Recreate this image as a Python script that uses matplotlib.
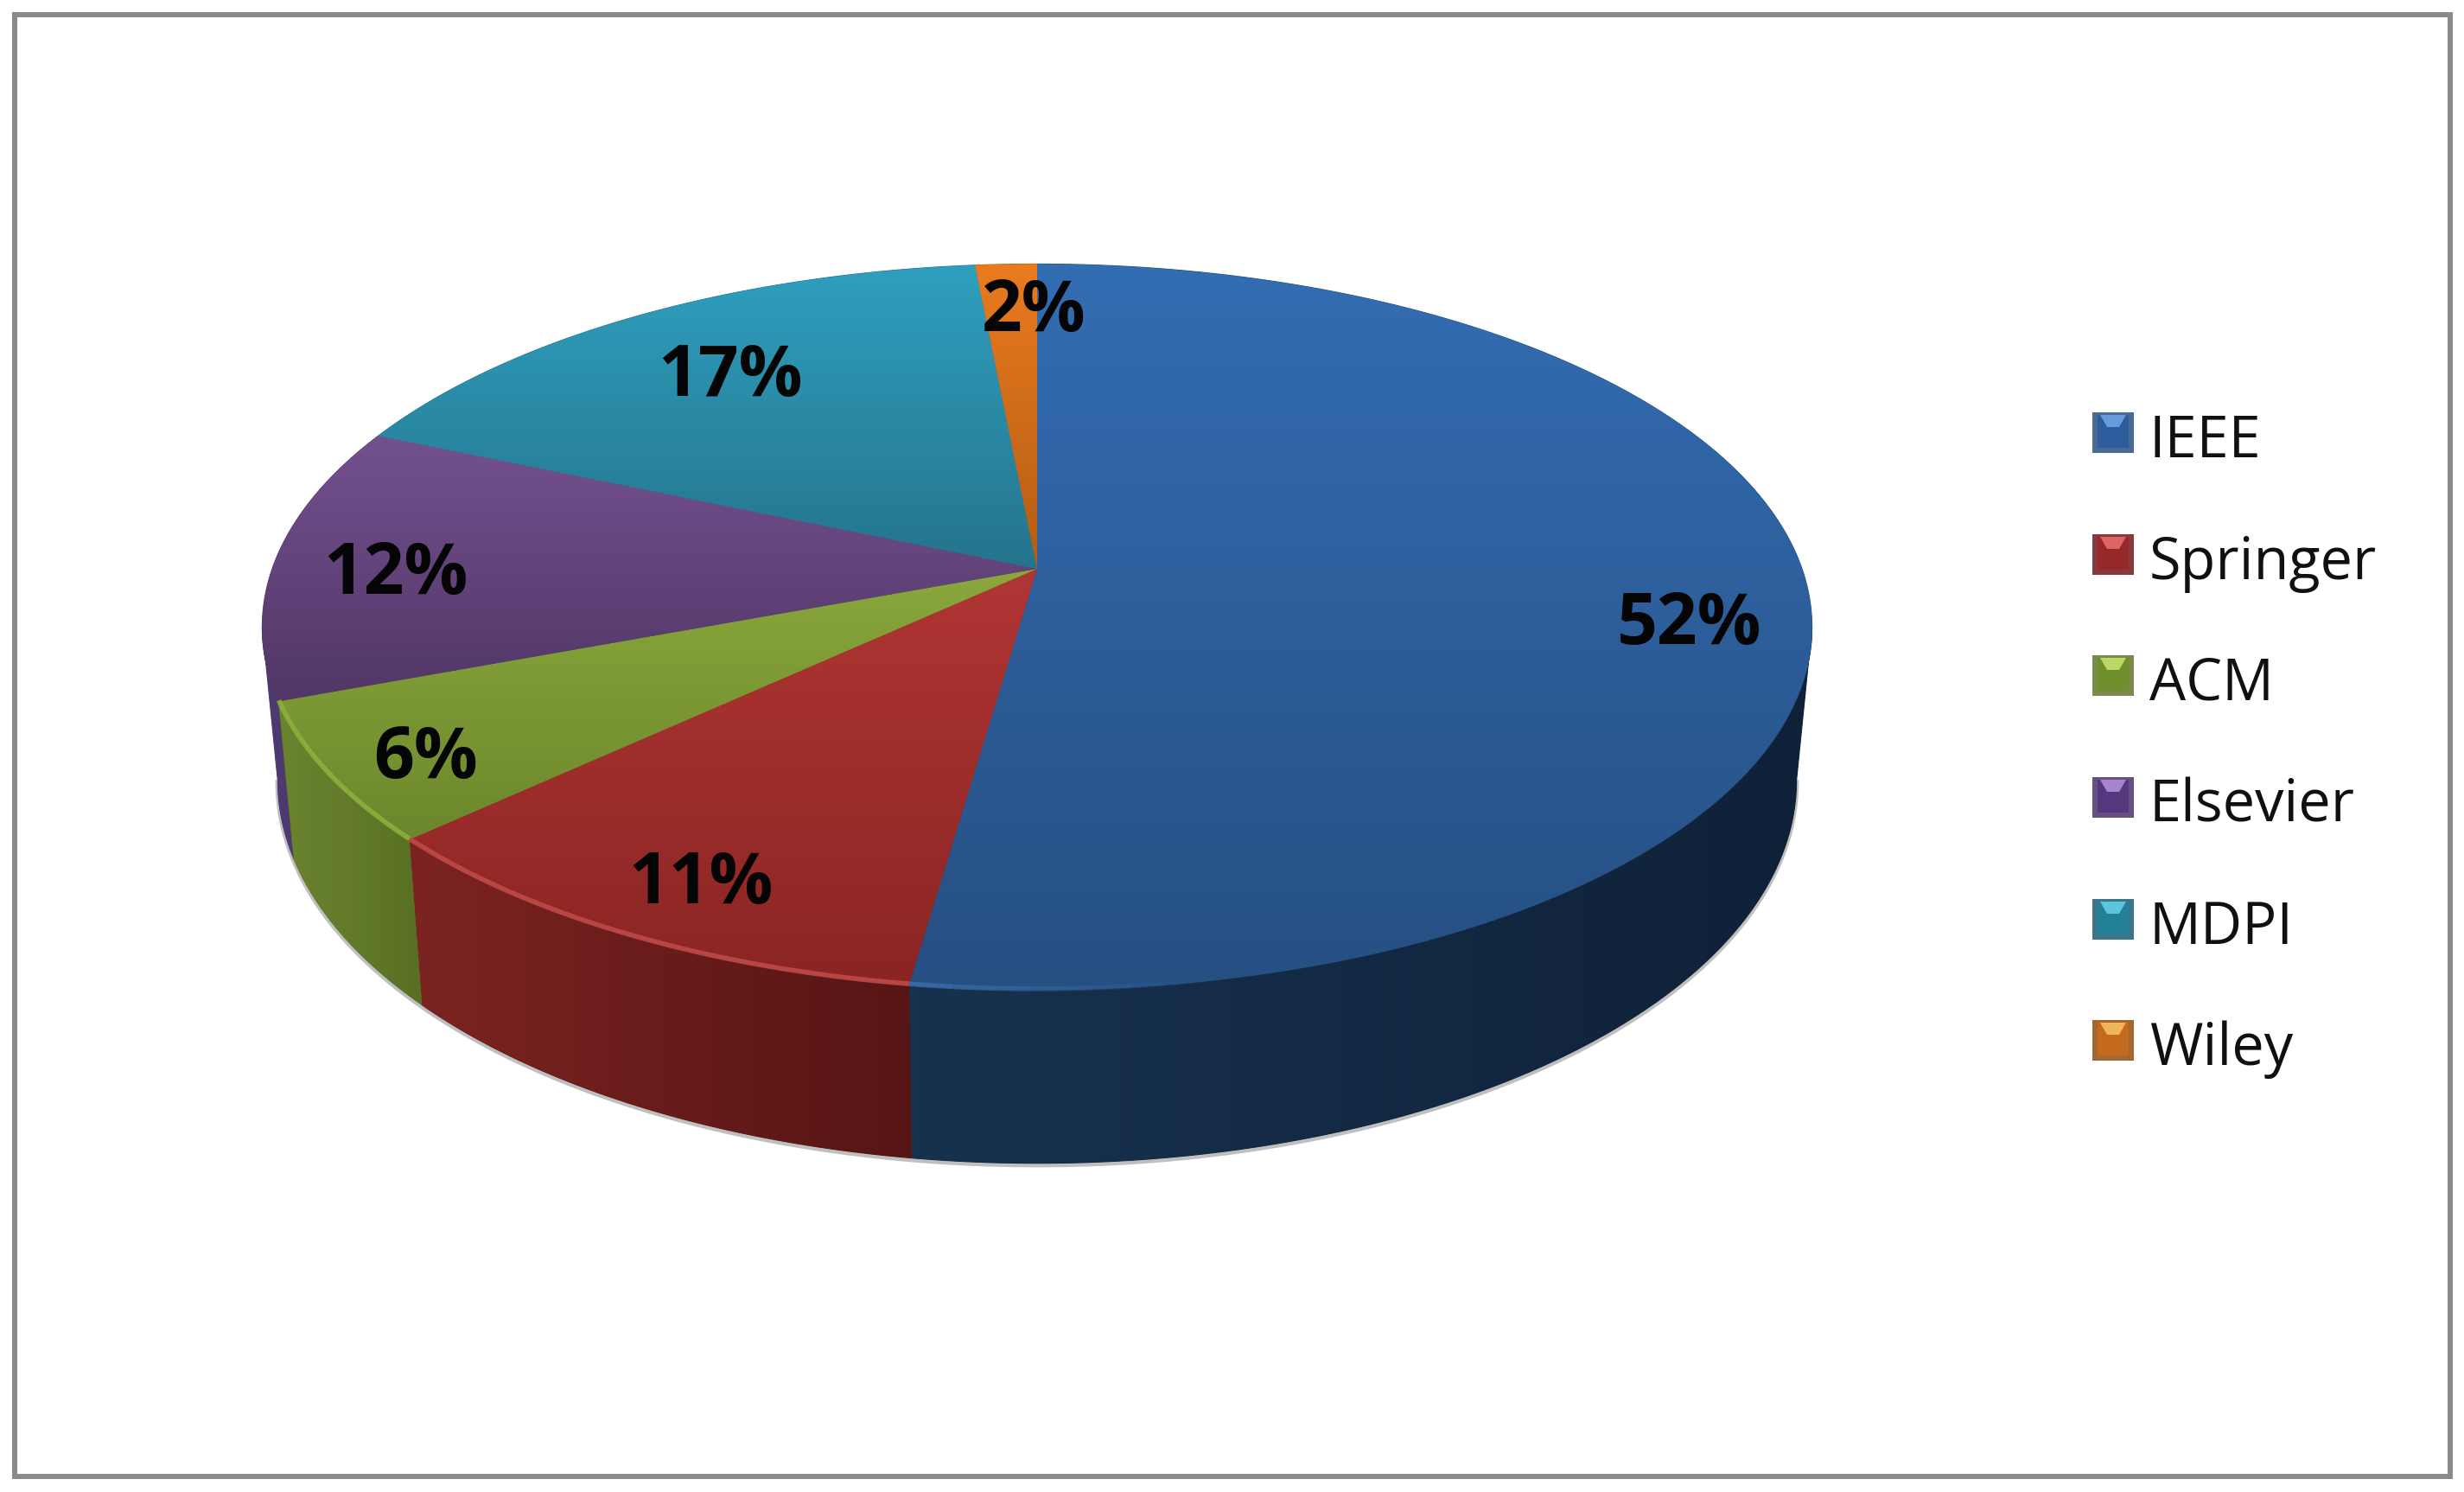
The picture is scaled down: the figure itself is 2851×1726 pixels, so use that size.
import matplotlib
matplotlib.use("Agg")
import matplotlib.pyplot as plt
import numpy as np
from matplotlib.colors import LinearSegmentedColormap
from matplotlib.patches import PathPatch, Polygon, Rectangle
from matplotlib.path import Path

# chart data, labels show these rounded
publishers = ["IEEE", "Springer", "ACM", "Elsevier", "MDPI", "Wiley"]
shares = [52.25, 10.8, 6.2, 12.3, 16.95, 1.5]

# colours: top face (upper, lower), wall (left, right), rim, legend (base, edge, glow)
top_colors = [("#336db2", "#264f82"), ("#b03634", "#8a2523"), ("#8aa83c", "#6c872c"),
              ("#73518f", "#523667"), ("#2f9fbf", "#25748c"), ("#ea7b1f", "#b45d14")]
wall_colors = [("#17324f", "#0f2138"), ("#7c2421", "#561514"), ("#6b8430", "#597024"),
               ("#4c3a70", "#4c3a70"), ("#1d5f73", "#1d5f73"), ("#8a4a12", "#8a4a12")]
rim_colors = ["#3a6ba6", "#c04c4b", "#8db23c", "#73518f", "#2f9fbf", "#ea7b1f"]
swatch_base = ["#2c5c9b", "#96282a", "#6f8f2c", "#55377f", "#238099", "#c46a1e"]
swatch_edge = ["#4a6a92", "#843a3e", "#7a8a4c", "#655080", "#3c7588", "#a26832"]
swatch_glow = ["#79b2f5", "#f77a78", "#d8f07a", "#c3a0e6", "#6fe0f5", "#ffcf70"]

# layout in image pixels
label_xy = [(1955, 723), (811, 1023), (493, 878), (458, 665), (845, 436), (1196, 362)]
legend_y = [501, 642, 782, 923, 1064, 1204]

CX, CY = 1200, 658
A, B, K = 885, 409, 0.16
DEPTH, GROW, SHRINK = 174, 1.055, 0.98

plt.rcParams["font.family"] = ["Open Sans", "DejaVu Sans"]

fig = plt.figure(figsize=(28.51, 17.26), dpi=100)
ax = fig.add_axes([0, 0, 1, 1])
ax.set_xlim(0, 2851)
ax.set_ylim(1726, 0)
ax.axis("off")


def top_point(theta):
    x, y = np.sin(theta), np.cos(theta)
    den = 1 + K * y
    return CX + A * x / den, CY - B * y / den


def bottom_point(theta):
    x, y = top_point(theta)
    return CX + (x - CX) * SHRINK, CY + (y - CY) * GROW + DEPTH


def fill_gradient(pts, c1, c2, vertical, zorder):
    pts = np.asarray(pts)
    ax.add_patch(Polygon(pts, closed=True, fc=c2, ec=c2, lw=0.8, zorder=zorder))
    patch = PathPatch(Path(np.vstack([pts, pts[:1]])), fc="none", ec="none", zorder=zorder)
    ax.add_patch(patch)
    cmap = LinearSegmentedColormap.from_list("g", [c1, c2])
    grad = np.linspace(0, 1, 256)
    grad = grad[:, None] if vertical else grad[None, :]
    x0, x1, y0, y1 = pts[:, 0].min(), pts[:, 0].max(), pts[:, 1].min(), pts[:, 1].max()
    im = ax.imshow(grad, cmap=cmap, extent=[x0, x1, y1, y0], aspect="auto",
                   interpolation="bilinear", zorder=zorder + 0.1)
    im.set_clip_path(patch)


edges = np.radians(np.cumsum([0] + shares) * 3.6)
arcs = [np.linspace(edges[i], edges[i + 1], 200) for i in range(len(shares))]

# the wall only shows between the left and right extremes of the top ellipse
side = np.arccos(-K)
wall_lo, wall_hi = side, 2 * np.pi - side

# soft shadow under the front of the pie
t = np.linspace(wall_lo, wall_hi, 300)
sx, sy = bottom_point(t)
ax.plot(sx, sy + 2, color="#808080", lw=4, alpha=0.5, zorder=1)

# walls, back ones first
for i in [3, 2, 0, 1]:
    lo, hi = max(edges[i], wall_lo), min(edges[i + 1], wall_hi)
    arc = np.linspace(lo, hi, 200)
    tx, ty = top_point(arc)
    bx, by = bottom_point(arc[::-1])
    pts = np.column_stack([np.r_[tx, bx], np.r_[ty, by]])
    fill_gradient(pts, wall_colors[i][0], wall_colors[i][1], False, 2 + i * 0.01 + (i < 3))

# top faces, shaded top to bottom
for i in range(len(shares)):
    tx, ty = top_point(arcs[i])
    pts = np.column_stack([np.r_[CX, tx], np.r_[CY, ty]])
    fill_gradient(pts, top_colors[i][0], top_colors[i][1], True, 5 + i * 0.01)

# light rim on the front edge of the top face
for i in [1, 2]:
    tx, ty = top_point(arcs[i])
    ax.plot(tx, ty - 1, color=rim_colors[i], lw=4, alpha=0.85, zorder=6, solid_capstyle="butt")
tx, ty = top_point(arcs[0][-22:])
for j in range(21):
    ax.plot(tx[j:j + 2], ty[j:j + 2] - 1, color=rim_colors[0], lw=4, alpha=0.9 * j / 20,
            zorder=6, solid_capstyle="butt")

# percentage labels
for share, (lx, ly) in zip(shares, label_xy):
    ax.text(lx, ly, f"{round(share)}%", fontsize=59, fontweight="bold", color="#050505",
            ha="center", va="center", zorder=8)

# legend
for i, name in enumerate(publishers):
    y = legend_y[i]
    ax.add_patch(Rectangle((2421, y - 24), 48, 47, fc=swatch_edge[i], ec="none", zorder=7))
    ax.add_patch(Rectangle((2427, y - 21), 36, 38, fc=swatch_base[i], ec="none", zorder=7.1))
    ax.add_patch(Polygon([(2430, y - 21), (2460, y - 21), (2452, y - 7), (2438, y - 7)],
                         closed=True, fc=swatch_glow[i], ec="none", alpha=0.75, zorder=7.2))
    ax.text(2487, y + 10, name, fontsize=48, color="#101010", ha="left", va="center", zorder=8)

# outer frame
ax.add_patch(Rectangle((17.5, 17), 2817.5, 1690.5, fc="none", ec="#8a8a8a", lw=4.3, zorder=9))

fig.savefig("out.png", dpi=100)
plt.close(fig)
